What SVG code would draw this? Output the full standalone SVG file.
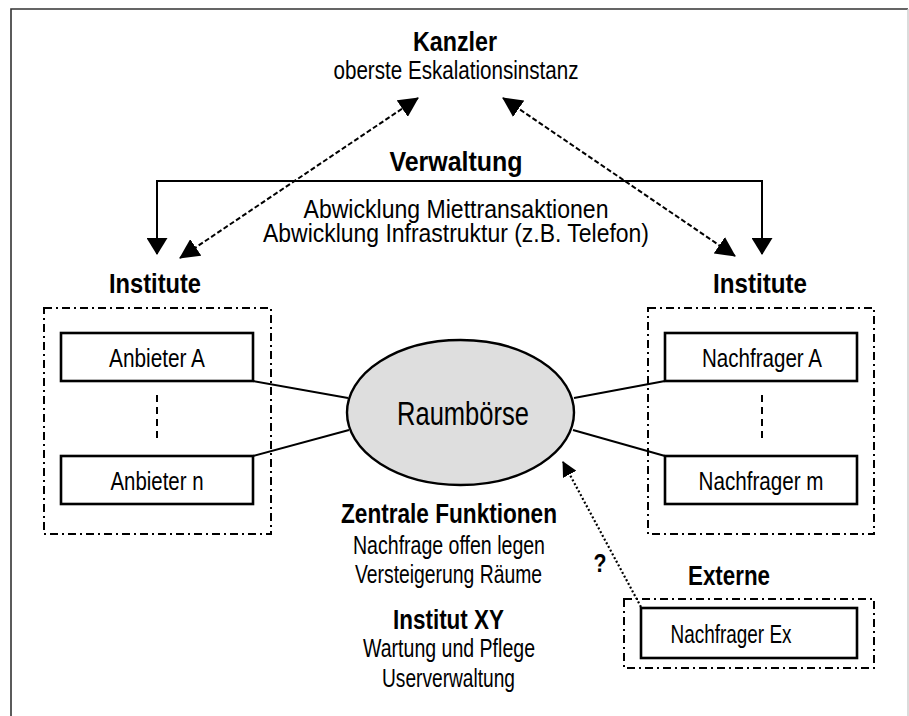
<svg xmlns="http://www.w3.org/2000/svg" width="909" height="716" viewBox="0 0 909 716">
<style>
  text { font-family: "Liberation Sans Narrow", "Liberation Sans", Arial, sans-serif; fill: #000; text-anchor: middle; }
  .b { font-weight: bold; font-size: 28px; }
  .r { font-size: 25px; }
  .box { fill: #fff; stroke: #000; stroke-width: 2.6; }
  .grp { fill: none; stroke: #000; stroke-width: 2; stroke-dasharray: 8 4 2 4; }
  .ell { fill: none; stroke: #000; stroke-width: 2; stroke-dasharray: 7 5; }
  .line { fill: none; stroke: #000; stroke-width: 2; }
  .dash { fill: none; stroke: #000; stroke-width: 2; stroke-dasharray: 5 2.5; }
  .dot { fill: none; stroke: #000; stroke-width: 2.2; stroke-dasharray: 2 2.2; }
</style>
<defs>
  <marker id="ah" viewBox="0 0 20 20" refX="19" refY="10" markerWidth="20" markerHeight="20" markerUnits="userSpaceOnUse" orient="auto-start-reverse">
    <path d="M0,0 L20,10 L0,20 z" fill="#000"/>
  </marker>
  <marker id="ahv" viewBox="0 0 17 21" refX="16" refY="10.5" markerWidth="17" markerHeight="21" markerUnits="userSpaceOnUse" orient="auto-start-reverse">
    <path d="M0,0 L17,10.5 L0,21 z" fill="#000"/>
  </marker>
  <marker id="ahs" viewBox="0 0 15 15" refX="14" refY="7.5" markerWidth="15" markerHeight="15" markerUnits="userSpaceOnUse" orient="auto">
    <path d="M0,0 L15,7.5 L0,15 z" fill="#000"/>
  </marker>
</defs>
<rect x="0" y="0" width="909" height="716" fill="#fff"/>
<!-- frame -->
<path d="M11,716 V9 H908" fill="none" stroke="#333" stroke-width="1.6"/>
<line x1="908" y1="9" x2="908" y2="716" stroke="#ccc" stroke-width="1.4"/>

<g id="connectors">
  <path class="line" d="M157,254 V181 H762 V254" marker-start="url(#ahv)" marker-end="url(#ahv)"/>
  <line class="dash" x1="180" y1="258" x2="418" y2="98" marker-start="url(#ah)" marker-end="url(#ah)"/>
  <line class="dash" x1="735" y1="256" x2="503" y2="98" marker-start="url(#ah)" marker-end="url(#ah)"/>
  <line class="line" x1="253" y1="381" x2="348" y2="398"/>
  <line class="line" x1="253" y1="456" x2="349" y2="430"/>
  <line class="line" x1="665" y1="381" x2="574" y2="398"/>
  <line class="line" x1="665" y1="456" x2="573" y2="430"/>
  <line class="dot" x1="641" y1="607" x2="563" y2="462" marker-end="url(#ahs)"/>
  <text class="b" x="600" y="572" textLength="13" lengthAdjust="spacingAndGlyphs" style="font-size:26px">?</text>
</g>

<g id="kanzler">
  <text class="b" x="455" y="51" textLength="84" lengthAdjust="spacingAndGlyphs" style="font-size:27px">Kanzler</text>
  <text class="r" x="456" y="79" textLength="245" lengthAdjust="spacingAndGlyphs">oberste Eskalationsinstanz</text>
</g>

<g id="verwaltung">
  <text class="b" x="456" y="171" textLength="133" lengthAdjust="spacingAndGlyphs">Verwaltung</text>
  <text class="r" x="456" y="218" textLength="305" lengthAdjust="spacingAndGlyphs">Abwicklung Miettransaktionen</text>
  <text class="r" x="456" y="241.5" textLength="386" lengthAdjust="spacingAndGlyphs">Abwicklung Infrastruktur (z.B. Telefon)</text>
</g>

<g id="institute-anbieter">
  <text class="b" x="155" y="293" textLength="92" lengthAdjust="spacingAndGlyphs">Institute</text>
  <rect class="grp" x="44" y="308" width="227" height="226"/>
  <line class="ell" x1="157" y1="395" x2="157" y2="442"/>
</g>
<g id="anbieter-a">
  <rect class="box" x="61" y="333" width="192" height="48"/>
  <text class="r" x="157" y="367" textLength="96" lengthAdjust="spacingAndGlyphs">Anbieter A</text>
</g>
<g id="anbieter-n">
  <rect class="box" x="61" y="456" width="192" height="48"/>
  <text class="r" x="157" y="490" textLength="93" lengthAdjust="spacingAndGlyphs">Anbieter n</text>
</g>

<g id="institute-nachfrager">
  <text class="b" x="760" y="293" textLength="94" lengthAdjust="spacingAndGlyphs">Institute</text>
  <rect class="grp" x="648" y="308" width="226" height="226"/>
  <line class="ell" x1="762" y1="395" x2="762" y2="442"/>
</g>
<g id="nachfrager-a">
  <rect class="box" x="665" y="333" width="192" height="48"/>
  <text class="r" x="762" y="367" textLength="120" lengthAdjust="spacingAndGlyphs">Nachfrager A</text>
</g>
<g id="nachfrager-m">
  <rect class="box" x="665" y="456" width="192" height="48"/>
  <text class="r" x="761" y="490" textLength="125" lengthAdjust="spacingAndGlyphs">Nachfrager m</text>
</g>

<g id="raumboerse">
  <ellipse cx="460.5" cy="412.5" rx="113.5" ry="72.5" fill="#dedede" stroke="#000" stroke-width="2.4"/>
  <text x="463" y="425" textLength="132" lengthAdjust="spacingAndGlyphs" style="font-size:33px">Raumbörse</text>
</g>

<g id="zentrale-funktionen">
  <text class="b" x="449" y="523" textLength="216" lengthAdjust="spacingAndGlyphs">Zentrale Funktionen</text>
  <text class="r" x="449" y="554" textLength="192" lengthAdjust="spacingAndGlyphs">Nachfrage offen legen</text>
  <text class="r" x="448.5" y="583" textLength="187" lengthAdjust="spacingAndGlyphs">Versteigerung Räume</text>
</g>

<g id="institut-xy">
  <text class="b" x="448.5" y="629" textLength="111" lengthAdjust="spacingAndGlyphs">Institut XY</text>
  <text class="r" x="449" y="657" textLength="172" lengthAdjust="spacingAndGlyphs">Wartung und Pflege</text>
  <text class="r" x="448.5" y="687" textLength="133" lengthAdjust="spacingAndGlyphs">Userverwaltung</text>
</g>

<g id="externe">
  <text class="b" x="729" y="585" textLength="82" lengthAdjust="spacingAndGlyphs">Externe</text>
  <rect class="grp" x="624" y="599" width="250" height="69"/>
</g>
<g id="nachfrager-ex">
  <rect class="box" x="641" y="608" width="216" height="50"/>
  <text class="r" x="731" y="643" textLength="121" lengthAdjust="spacingAndGlyphs">Nachfrager Ex</text>
</g>
</svg>
